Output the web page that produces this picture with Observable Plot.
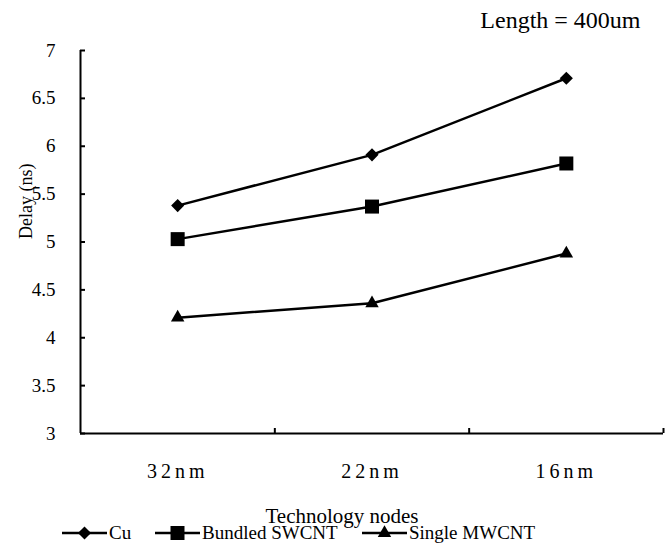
<!DOCTYPE html>
<html>
<head>
<meta charset="utf-8">
<script src="https://cdn.jsdelivr.net/npm/d3@7"></script>
<script src="https://cdn.jsdelivr.net/npm/@observablehq/plot@0.6"></script>
<style>
  body { margin: 0; background: #fff; }
  #chart { position: relative; width: 665px; height: 544px; font-family: "Liberation Serif", "Times New Roman", serif; }
  g[aria-label="x-axis tick label"] text { letter-spacing: 4px; }
  #legend { position: absolute; left: 0; top: 522px; height: 22px; width: 665px; font-size: 19px; color: #000; font-family: "Liberation Serif", "Times New Roman", serif; }
  .item { position: absolute; display: flex; align-items: center; top: 0; height: 22px; }
  .item svg { display: block; margin-right: 2px; }
</style>
</head>
<body>
<div id="chart"></div>
<script>
// ---- data ----
const categories = ["32nm", "22nm", "16nm"];
const seriesNames = ["Cu", "Bundled SWCNT", "Single MWCNT"];
const cuDelay = [5.38, 5.91, 6.71];
const swcntDelay = [5.03, 5.37, 5.82];
const mwcntDelay = [4.21, 4.36, 4.88];
const yTicks = [3, 3.5, 4, 4.5, 5, 5.5, 6, 6.5, 7];
const titleText = "Length = 400um";
const xTitle = "Technology nodes";
const yTitle = "Delay (ns)";

// ---- build ----
const serif = "Liberation Serif";
const seriesValues = [cuDelay, swcntDelay, mwcntDelay];
const symbols = ["diamond2", "square", "triangle"];
const radii = [5.9, 7.9, 5.0];
const rows = seriesNames.map((s, k) => categories.map((c, i) => ({series: s, node: c, delay: seriesValues[k][i]})));
const xPos = d => categories.indexOf(d.node) + 0.5;
const catTicks = categories.map((c, i) => i + 0.5);
const boundaryTicks = d3.range(1, categories.length + 1);

const marks = [
  Plot.ruleX([0], {stroke: "#000", strokeWidth: 2}),
  Plot.ruleY([yTicks[0]], {stroke: "#000", strokeWidth: 2}),
  Plot.axisY({ticks: yTicks, tickSize: -5, strokeWidth: 2, tickFormat: () => "", label: null}),
  Plot.axisY({ticks: yTicks, tickSize: 0, tickPadding: 25, tickFormat: d => String(d), fontSize: 19, label: null, fontFamily: serif}),
  Plot.axisX({ticks: boundaryTicks, tickSize: -5, strokeWidth: 2, tickFormat: () => "", label: null}),
  Plot.axisX({ticks: catTicks, tickSize: 0, tickPadding: 30, tickFormat: v => categories[Math.round(v - 0.5)], fontSize: 20, label: null, fontFamily: serif}),
  Plot.text([xTitle], {frameAnchor: "bottom", dy: 83, dx: -30, fontSize: 21, lineAnchor: "middle", fontFamily: serif}),
  Plot.text([yTitle], {frameAnchor: "left", dx: -54, dy: -3, rotate: -90, fontSize: 18, lineAnchor: "middle", fontFamily: serif}),
  Plot.text([titleText], {frameAnchor: "top-right", dx: -23, dy: -30, fontSize: 24, textAnchor: "end", lineAnchor: "middle", fontFamily: serif})
];
rows.forEach((data, k) => {
  marks.push(Plot.line(data, {x: xPos, y: "delay", stroke: "#000", strokeWidth: 2.5}));
  marks.push(Plot.dot(data, {x: xPos, y: "delay", symbol: () => symbols[k], r: radii[k], fill: "#000", stroke: "none"}));
});

const plot = Plot.plot({
  width: 665,
  height: 544,
  marginTop: 50,
  marginBottom: 111,
  marginLeft: 80,
  marginRight: 2,
  style: {fontFamily: serif, fontSize: "19px", color: "#000", background: "#fff"},
  x: {type: "linear", domain: [0, categories.length], axis: null},
  y: {domain: [yTicks[0], yTicks[yTicks.length - 1]], axis: null},
  symbol: {type: "identity"},
  marks
});
const chart = document.getElementById("chart");
chart.appendChild(plot);

// ---- legend ----
const legend = document.createElement("div");
legend.id = "legend";
const lefts = [62, 155, 362];
seriesNames.forEach((s, k) => {
  const item = document.createElement("div");
  item.className = "item";
  item.style.left = lefts[k] + "px";
  const w = 45, h = 18;
  const svg = d3.create("svg").attr("width", w).attr("height", h);
  svg.append("line").attr("x1", 0).attr("x2", w).attr("y1", h / 2).attr("y2", h / 2).attr("stroke", "#000").attr("stroke-width", 2.5);
  const sym = {diamond2: d3.symbolDiamond2, square: d3.symbolSquare, triangle: d3.symbolTriangle}[symbols[k]];
  svg.append("path").attr("transform", `translate(${w / 2},${h / 2})`).attr("d", d3.symbol(sym, Math.PI * radii[k] * radii[k])()).attr("fill", "#000");
  item.appendChild(svg.node());
  const t = document.createElement("span");
  t.textContent = s;
  item.appendChild(t);
  legend.appendChild(item);
});
chart.appendChild(legend);
</script>
</body>
</html>
